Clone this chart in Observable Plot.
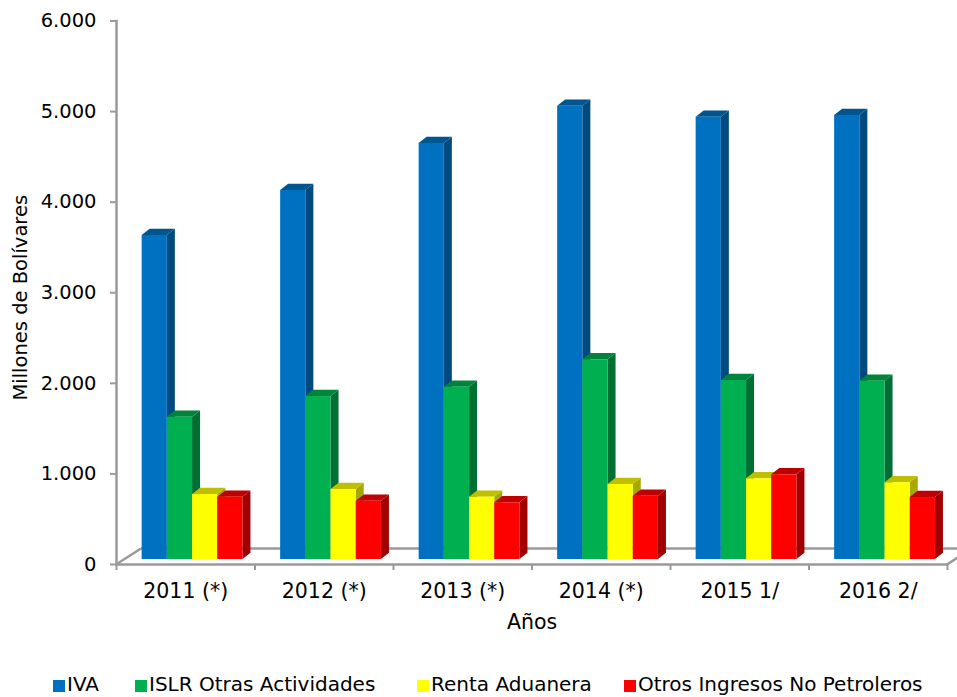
<!DOCTYPE html>
<html lang="es">
<head>
<meta charset="utf-8">
<script src="https://cdn.jsdelivr.net/npm/d3@7"></script>
<script src="https://cdn.jsdelivr.net/npm/@observablehq/plot@0.6"></script>
<style>
  html, body { margin: 0; padding: 0; background: #fff; }
  body { width: 957px; height: 697px; overflow: hidden; position: relative; font-family: "DejaVu Sans", sans-serif; }
  svg { display: block; }
  #legend { position: absolute; left: 0; top: 673px; height: 22px; width: 957px; font-size: 20px; line-height: 22px; color: #000; white-space: nowrap; }
  #legend span.item { position: absolute; top: 0; }
  #legend i { display: inline-block; width: 12px; height: 12px; margin-right: 2px; vertical-align: -1px; }
</style>
</head>
<body>
<div id="chart"></div>
<div id="legend"></div>
<script>
const years = ["2011 (*)", "2012 (*)", "2013 (*)", "2014 (*)", "2015 1/", "2016 2/"];
const seriesNames = ["IVA", "ISLR Otras Actividades", "Renta Aduanera", "Otros Ingresos No Petroleros"];
const iva = [3577, 4074, 4593, 5004, 4883, 4902];
const islr = [1571, 1799, 1902, 2205, 1976, 1968];
const renta = [717, 773, 688, 828, 891, 847];
const otros = [688, 643, 626, 699, 935, 684];
const yTicks = [0, 1000, 2000, 3000, 4000, 5000, 6000];
const frontColors = ["#0070c0", "#00b050", "#ffff00", "#ff0000"];
const topColors = ["#00558f", "#00843c", "#bfbf00", "#bf0000"];
const sideColors = ["#004a80", "#006f33", "#a8a800", "#a00000"];
const legendLeft = [53, 135, 417, 624];

const allSeries = [iva, islr, renta, otros];

const band = (947 - 116) / years.length;
const barW = 25.2;
const gap = (band - barW * 4) / 2;
const frontDx = 6.8, frontDy = -5;
const depthX = 8, depthY = 6.3;
const grey = "#9a9a9a";

function svgEl(name, attrs) {
  const e = document.createElementNS("http://www.w3.org/2000/svg", name);
  for (const k in attrs) e.setAttribute(k, attrs[k]);
  return e;
}

// Turns each rect of a bar mark into the top or side face of its 3D box.
function face(kind) {
  return function (index, scales, values, dimensions, context, next) {
    const g = next(index, scales, values, dimensions, context);
    g.querySelectorAll("rect").forEach((r) => {
      const x = +r.getAttribute("x"), y = +r.getAttribute("y");
      const w = +r.getAttribute("width"), h = +r.getAttribute("height");
      const pts = kind === "top"
        ? [[x, y], [x + depthX, y - depthY], [x + w + depthX, y - depthY], [x + w, y]]
        : [[x + w, y], [x + w + depthX, y - depthY], [x + w + depthX, y + h - depthY], [x + w, y + h]];
      r.replaceWith(svgEl("polygon", { points: pts.map((p) => p.join(",")).join(" ") }));
    });
    return g;
  };
}

// Tilts a horizontal rule into the floor edge running back from the axis.
function floorEdge(side) {
  return function (index, scales, values, dimensions, context, next) {
    const g = next(index, scales, values, dimensions, context);
    g.querySelectorAll("line").forEach((l) => {
      const x = +l.getAttribute(side === "left" ? "x1" : "x2");
      const y = +l.getAttribute("y1");
      l.setAttribute("x1", x);
      l.setAttribute("x2", x + 25);
      l.setAttribute("y2", y - 16);
    });
    return g;
  };
}

const barMarks = allSeries.flatMap((vals, s) => {
  const rows = years.map((year, i) => ({ year, value: vals[i] }));
  const common = {
    x: "year",
    y: "value",
    dx: frontDx,
    dy: frontDy,
    insetLeft: gap + barW * s,
    insetRight: gap + barW * (3 - s)
  };
  return [
    Plot.barY(rows, { ...common, fill: sideColors[s], render: face("side") }),
    Plot.barY(rows, { ...common, fill: topColors[s], render: face("top") }),
    Plot.barY(rows, { ...common, fill: frontColors[s] })
  ];
});

const chart = Plot.plot({
  width: 957,
  height: 670,
  marginTop: 20.5,
  marginBottom: 106,
  marginLeft: 116,
  marginRight: 10,
  style: { background: "#fff", fontFamily: "'DejaVu Sans', sans-serif", fontSize: "19.5px", color: "#000", overflow: "hidden" },
  x: { type: "band", domain: years, padding: 0, round: false, label: null },
  y: { domain: [0, 6000], label: null },
  marks: [
    Plot.ruleY([0], { dx: 25, dy: -16, stroke: grey, strokeWidth: 2.5 }),
    Plot.ruleY([0], { stroke: grey, strokeWidth: 2.5, render: floorEdge("left") }),
    Plot.ruleY([0], { stroke: grey, strokeWidth: 2.5, render: floorEdge("right") }),
    Plot.frame({ anchor: "left", stroke: grey, strokeWidth: 2.5 }),
    Plot.ruleY([0], { stroke: grey, strokeWidth: 2.5 }),
    Plot.axisY(yTicks, {
      stroke: grey, strokeWidth: 2, fill: "#000", tickSize: 6, tickPadding: 14, label: null,
      tickFormat: (d) => d3.format(",")(d).replace(",", ".")
    }),
    Plot.text(["Millones de Bolívares"], {
      text: (d) => d, frameAnchor: "left", textAnchor: "middle", rotate: -90, dx: -96, dy: 5, fontSize: 19.5, fill: "#000"
    }),
    Plot.axisX({ stroke: grey, strokeWidth: 2, fill: "none", tickSize: 6, dx: -band / 2, label: null }),
    Plot.axisX(years.slice(-1), { stroke: grey, strokeWidth: 2, fill: "none", tickSize: 6, dx: band / 2, label: null }),
    Plot.axisX({
      tickSize: 0, tickPadding: 19, fill: "#000", fontSize: 20.5,
      label: "Años", labelAnchor: "center", labelArrow: "none", labelOffset: 64
    }),
    ...barMarks
  ]
});
document.getElementById("chart").appendChild(chart);

const legend = document.getElementById("legend");
seriesNames.forEach((name, i) => {
  const item = document.createElement("span");
  item.className = "item";
  item.style.left = legendLeft[i] + "px";
  const sw = document.createElement("i");
  sw.style.background = frontColors[i];
  item.appendChild(sw);
  item.appendChild(document.createTextNode(name));
  legend.appendChild(item);
});
</script>
</body>
</html>
